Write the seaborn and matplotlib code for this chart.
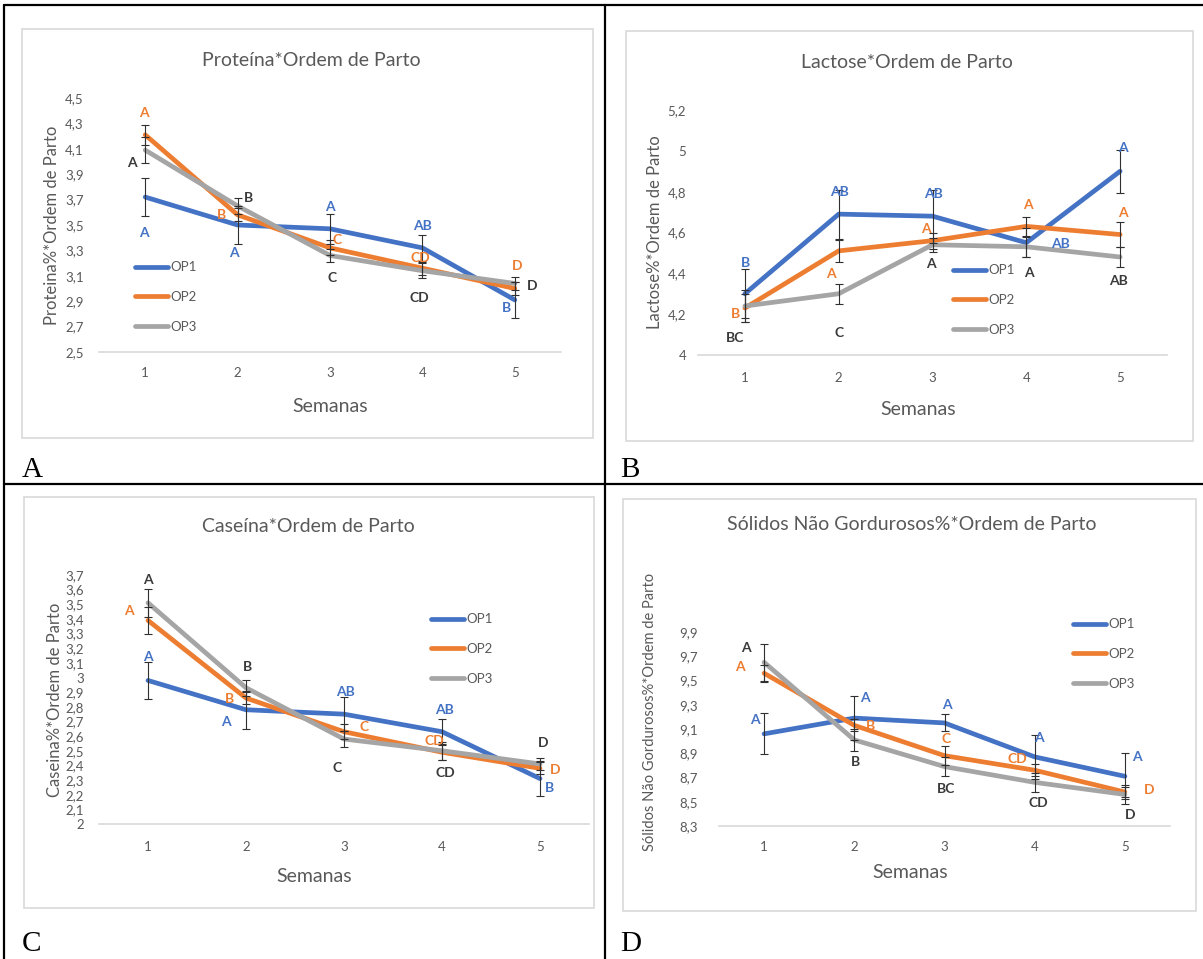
import numpy as np
import pandas as pd
import matplotlib
matplotlib.use("Agg")
import matplotlib.pyplot as plt
import seaborn as sns
from matplotlib.patches import Rectangle
from matplotlib.lines import Line2D
from matplotlib.ticker import FuncFormatter

# ---------------- data ----------------
weeks = [1, 2, 3, 4, 5]
series = ["OP1", "OP2", "OP3"]

prot_op1 = [3.72, 3.50, 3.47, 3.32, 2.91]
prot_op2 = [4.21, 3.58, 3.32, 3.16, 3.00]
prot_op3 = [4.09, 3.65, 3.26, 3.14, 3.04]
prot_err_op1 = [0.15, 0.15, 0.12, 0.10, 0.14]
prot_err_op2 = [0.08, 0.05, 0.06, 0.05, 0.05]
prot_err_op3 = [0.10, 0.06, 0.05, 0.06, 0.05]
prot_let_op1 = ["A", "A", "A", "AB", "B"]
prot_let_op2 = ["A", "B", "C", "CD", "D"]
prot_let_op3 = ["A", "B", "C", "CD", "D"]

lac_op1 = [4.30, 4.69, 4.68, 4.55, 4.90]
lac_op2 = [4.23, 4.51, 4.56, 4.63, 4.59]
lac_op3 = [4.24, 4.30, 4.54, 4.53, 4.48]
lac_err_op1 = [0.12, 0.12, 0.13, 0.07, 0.105]
lac_err_op2 = [0.07, 0.055, 0.04, 0.045, 0.06]
lac_err_op3 = [0.08, 0.05, 0.035, 0.05, 0.05]
lac_let_op1 = ["B", "AB", "AB", "AB", "A"]
lac_let_op2 = ["B", "A", "A", "A", "A"]
lac_let_op3 = ["BC", "C", "A", "A", "AB"]

cas_op1 = [2.98, 2.78, 2.75, 2.63, 2.31]
cas_op2 = [3.39, 2.86, 2.63, 2.49, 2.38]
cas_op3 = [3.51, 2.93, 2.58, 2.50, 2.41]
cas_err_op1 = [0.125, 0.13, 0.115, 0.085, 0.12]
cas_err_op2 = [0.09, 0.04, 0.05, 0.05, 0.04]
cas_err_op3 = [0.095, 0.055, 0.055, 0.06, 0.04]
cas_let_op1 = ["A", "A", "AB", "AB", "B"]
cas_let_op2 = ["A", "B", "C", "CD", "D"]
cas_let_op3 = ["A", "B", "C", "CD", "D"]

sng_op1 = [9.06, 9.19, 9.15, 8.87, 8.71]
sng_op2 = [9.56, 9.13, 8.88, 8.76, 8.58]
sng_op3 = [9.65, 9.01, 8.79, 8.66, 8.56]
sng_err_op1 = [0.17, 0.18, 0.07, 0.18, 0.19]
sng_err_op2 = [0.07, 0.05, 0.08, 0.05, 0.04]
sng_err_op3 = [0.15, 0.09, 0.08, 0.08, 0.08]
sng_let_op1 = ["A", "A", "A", "A", "A"]
sng_let_op2 = ["A", "B", "C", "CD", "D"]
sng_let_op3 = ["A", "B", "BC", "CD", "D"]

# ---------------- style ----------------
W, H = 1203, 959
sns.set_style("white")
plt.rcParams["font.family"] = ["Lato", "DejaVu Sans"]

palette = {"OP1": "#4472C4", "OP2": "#ED7D31", "OP3": "#A5A5A5"}
letter_colors = {"OP1": "#4472C4", "OP2": "#ED7D31", "OP3": "#3A3A3A"}
GREY_TXT = "#595959"
FRAME = "#D9D9D9"

fig = plt.figure(figsize=(W / 100, H / 100), dpi=100)


def fx(x):
    return x / W


def fy(y):
    return 1 - y / H


def fmt(v, p):
    s = f"{v:.1f}"
    if s.endswith(".0"):
        s = s[:-2]
    return s.replace(".", ",")


panels = [
    dict(vals=[prot_op1, prot_op2, prot_op3],
         errs=[prot_err_op1, prot_err_op2, prot_err_op3],
         lets=[prot_let_op1, prot_let_op2, prot_let_op3],
         offs=[[(-1, -36), (-4, -28), (0, 22), (0, 22), (-8, -8)],
               [(-1, 22), (-16, 0), (7, 8), (-2, 10), (2, 22)],
               [(-13, -13), (11, 8), (2, -23), (-3, -27), (17, -3)]],
         rect=(99, 561, 98, 352), ylim=(2.5, 4.5), ystep=0.2,
         frame=(22, 593, 29, 438),
         title="Proteína*Ordem de Parto", title_xy=(311, 60),
         xlab_xy=(330, 407),
         ylab="Proteina%*Ordem de Parto", ylab_xy=(52, 225), ylab_fs=12,
         leg_xy=(135, 297), ypad=11, xpad=11),
    dict(vals=[lac_op1, lac_op2, lac_op3],
         errs=[lac_err_op1, lac_err_op2, lac_err_op3],
         lets=[lac_let_op1, lac_let_op2, lac_let_op3],
         offs=[[(1, 31), (1, 22), (1, 22), (34, -1), (3, 23)],
               [(-9, -6), (-8, -23), (-7, 12), (2, 21), (3, 22)],
               [(-10, -32), (0, -39), (-2, -19), (3, -26), (-2, -24)]],
         rect=(698, 1167, 110, 355), ylim=(4.0, 5.2), ystep=0.2,
         frame=(626, 1193, 31, 441),
         title="Lactose*Ordem de Parto", title_xy=(907, 62),
         xlab_xy=(918, 410),
         ylab="Lactose%*Ordem de Parto", ylab_xy=(655, 232), ylab_fs=12,
         leg_xy=(953, 300), ypad=8.5, xpad=12),
    dict(vals=[cas_op1, cas_op2, cas_op3],
         errs=[cas_err_op1, cas_err_op2, cas_err_op3],
         lets=[cas_let_op1, cas_let_op2, cas_let_op3],
         offs=[[(0, 23), (-20, -12), (2, 22), (3, 22), (10, -9)],
               [(-19, 9), (-16, -1), (20, 5), (-8, 11), (15, -2)],
               [(0, 23), (2, 21), (-7, -29), (3, -22), (3, 21)]],
         rect=(99, 589, 575, 824), ylim=(2.0, 3.7), ystep=0.1,
         frame=(24, 594, 497, 908),
         title="Caseína*Ordem de Parto", title_xy=(308, 526),
         xlab_xy=(314, 877),
         ylab="Caseina%*Ordem de Parto", ylab_xy=(55, 700), ylab_fs=12,
         leg_xy=(431, 649), ypad=11, xpad=12),
    dict(vals=[sng_op1, sng_op2, sng_op3],
         errs=[sng_err_op1, sng_err_op2, sng_err_op3],
         lets=[sng_let_op1, sng_let_op2, sng_let_op3],
         offs=[[(-9, 14), (11, 20), (2, 18), (4, 19), (12, 19)],
               [(-24, 6), (16, -1), (2, 17), (-17, 11), (24, 2)],
               [(-18, 14), (1, -22), (2, -22), (4, -21), (5, -21)]],
         rect=(719, 1170, 632, 826), ylim=(8.3, 9.9), ystep=0.2,
         frame=(623, 1196, 499, 911),
         title="Sólidos Não Gordurosos%*Ordem de Parto", title_xy=(912, 524),
         xlab_xy=(910, 872),
         ylab="Sólidos Não Gordurosos%*Ordem de Parto", ylab_xy=(650, 712), ylab_fs=10.5,
         leg_xy=(1073, 654), ypad=15, xpad=11),
]

for cfg in panels:
    x0, x1, yt, yb = cfg["rect"]
    # frame of chart area
    fx0, fx1, fy0, fy1 = cfg["frame"]
    fig.add_artist(Rectangle((fx(fx0), fy(fy1)), (fx1 - fx0) / W, (fy1 - fy0) / H,
                             transform=fig.transFigure, fill=False,
                             edgecolor=FRAME, lw=1.2))
    ax = fig.add_axes([fx(x0), fy(yb), (x1 - x0) / W, (yb - yt) / H])
    ax.set_facecolor("none")
    df = pd.DataFrame({
        "Semana": weeks * 3,
        "Valor": np.concatenate(cfg["vals"]),
        "Ordem": np.repeat(series, len(weeks)),
    })
    sns.lineplot(data=df, x="Semana", y="Valor", hue="Ordem", palette=palette,
                 linewidth=3.4, ax=ax, legend=False, sort=False, errorbar=None,
                 solid_capstyle="round", solid_joinstyle="round", clip_on=False)
    for vals, errs in zip(cfg["vals"], cfg["errs"]):
        ax.errorbar(weeks, vals, yerr=errs, fmt="none", ecolor="#303030",
                    elinewidth=0.8, capsize=3, capthick=0.8, zorder=4, clip_on=False)
    for s, vals, lets, offs in zip(series, cfg["vals"], cfg["lets"], cfg["offs"]):
        for w, v, l, o in zip(weeks, vals, lets, offs):
            ax.annotate(l, (w, v), xytext=o, textcoords="offset pixels",
                        ha="center", va="center", fontsize=10, fontweight="bold",
                        color=letter_colors[s], annotation_clip=False, zorder=5)
    ax.set_xlim(0.5, 5.5)
    ax.set_ylim(*cfg["ylim"])
    n = int(round((cfg["ylim"][1] - cfg["ylim"][0]) / cfg["ystep"]))
    ax.set_yticks([cfg["ylim"][0] + i * cfg["ystep"] for i in range(n + 1)])
    ax.set_xticks(weeks)
    ax.yaxis.set_major_formatter(FuncFormatter(fmt))
    ax.set_xlabel("")
    ax.set_ylabel("")
    for sp in ["left", "right", "top"]:
        ax.spines[sp].set_visible(False)
    ax.spines["bottom"].set_color(FRAME)
    ax.spines["bottom"].set_linewidth(1.2)
    ax.tick_params(axis="y", length=0, pad=cfg["ypad"], labelsize=9.5, labelcolor=GREY_TXT)
    ax.tick_params(axis="x", length=0, pad=cfg["xpad"], labelsize=9.5, labelcolor=GREY_TXT)
    # legend
    handles = ax.get_lines()[:3]
    fig.legend(handles, series, loc="center left",
               bbox_to_anchor=(fx(cfg["leg_xy"][0]), fy(cfg["leg_xy"][1])),
               bbox_transform=fig.transFigure, frameon=False, fontsize=9.5,
               handlelength=2.5, handletextpad=0.15, labelspacing=1.35,
               borderpad=0, borderaxespad=0, labelcolor=GREY_TXT)
    # titles and axis labels
    fig.text(fx(cfg["title_xy"][0]), fy(cfg["title_xy"][1]), cfg["title"],
             ha="center", va="center", fontsize=14, color=GREY_TXT)
    fig.text(fx(cfg["xlab_xy"][0]), fy(cfg["xlab_xy"][1]), "Semanas",
             ha="center", va="center", fontsize=14, color=GREY_TXT)
    fig.text(fx(cfg["ylab_xy"][0]), fy(cfg["ylab_xy"][1]), cfg["ylab"],
             ha="center", va="center", rotation=90, fontsize=cfg["ylab_fs"],
             color=GREY_TXT)

# table borders
for (xa, ya, xb, yb_) in [(4, 5, 1203, 5), (4, 5, 4, 959), (605, 5, 605, 959),
                          (4, 484, 1203, 484)]:
    fig.add_artist(Line2D([fx(xa), fx(xb)], [fy(ya), fy(yb_)], color="black",
                          lw=1.6, transform=fig.transFigure))

# panel letters
for letter, (px, py) in zip(["A", "B", "C", "D"],
                            [(22, 477), (620, 477), (22, 951), (620, 951)]):
    fig.text(fx(px), fy(py), letter, ha="left", va="baseline",
             fontsize=21, family="Liberation Serif", color="black")

fig.savefig("out.png", dpi=100)
